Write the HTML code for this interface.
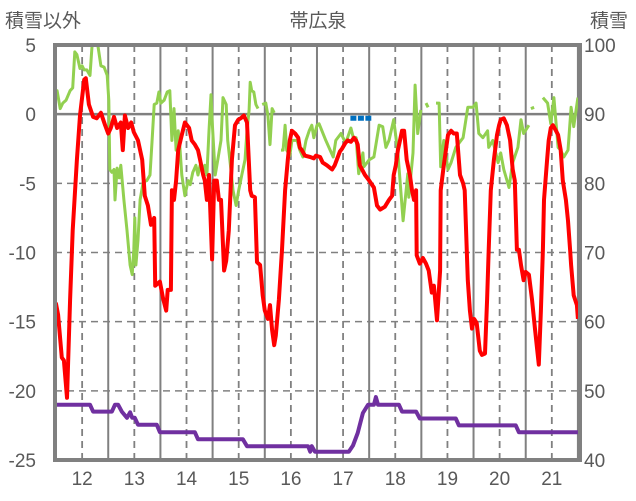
<!DOCTYPE html>
<html><head><meta charset="utf-8">
<style>
html,body{margin:0;padding:0;background:#fff;}
svg{display:block;font-family:"Liberation Sans","Noto Sans CJK JP",sans-serif;}
</style></head>
<body>
<svg id="chart" width="636" height="501" viewBox="0 0 636 501" xmlns="http://www.w3.org/2000/svg">
<rect x="0" y="0" width="636" height="501" fill="#fff"/>
<text x="318" y="27" text-anchor="middle" font-size="19" fill="#595959">帯広泉</text>
<text x="5" y="27" font-size="19" fill="#595959">積雪以外</text>
<text x="590" y="27" font-size="19" fill="#595959">積雪</text>
<g id="grid"></g>
<g id="series"></g>
<g id="axes"></g>
</svg>
<script>
// ---- data ----
const xTicks = [12,13,14,15,16,17,18,19,20,21];
const leftTicks = [5,0,-5,-10,-15,-20,-25];
const rightTicks = [100,90,80,70,60,50,40];

const redT = [11.48,11.50,11.54,11.61,11.65,11.71,11.77,11.82,11.90,11.96,12.04,12.07,12.13,12.21,12.28,12.36,12.44,12.50,12.55,12.61,12.67,12.74,12.78,12.82,12.88,12.94,12.99,13.07,13.15,13.20,13.26,13.32,13.38,13.40,13.49,13.55,13.61,13.64,13.70,13.72,13.76,13.80,13.84,13.91,13.97,14.05,14.10,14.16,14.22,14.26,14.32,14.35,14.39,14.43,14.49,14.53,14.58,14.62,14.66,14.72,14.76,14.81,14.87,14.93,14.99,15.04,15.10,15.16,15.22,15.25,15.31,15.35,15.41,15.46,15.50,15.56,15.60,15.64,15.68,15.71,15.77,15.83,15.89,15.94,15.98,16.02,16.08,16.14,16.17,16.21,16.27,16.37,16.44,16.48,16.56,16.61,16.69,16.79,16.84,16.94,16.98,17.04,17.09,17.15,17.21,17.25,17.28,17.32,17.42,17.50,17.59,17.65,17.71,17.80,17.88,17.94,17.97,18.01,18.05,18.09,18.13,18.17,18.22,18.28,18.32,18.36,18.40,18.41,18.47,18.53,18.59,18.64,18.70,18.74,18.80,18.86,18.87,18.93,18.97,19.01,19.07,19.12,19.18,19.24,19.30,19.33,19.39,19.43,19.47,19.51,19.56,19.62,19.66,19.72,19.76,19.79,19.83,19.89,19.95,19.99,20.02,20.08,20.14,20.20,20.25,20.29,20.33,20.37,20.41,20.46,20.50,20.56,20.62,20.68,20.71,20.75,20.79,20.83,20.85,20.91,20.94,20.98,21.02,21.08,21.12,21.17,21.21,21.27,21.31,21.35,21.37,21.42,21.48,21.50];
const redV = [-14.5,-13.7,-14.5,-17.6,-17.8,-20.5,-13.4,-8.4,-3.3,-0.1,2.5,2.6,0.7,-0.2,-0.3,0.1,-0.8,-1.4,-1.0,-0.2,-1.0,-0.6,-2.6,-0.1,-1.0,-0.6,-1.3,-1.9,-3.3,-5.9,-6.6,-8.0,-7.5,-12.4,-12.1,-13.3,-14.2,-12.7,-12.7,-5.5,-6.2,-4.8,-2.6,-1.5,-0.6,-1.0,-1.9,-2.2,-2.6,-3.3,-4.4,-4.8,-6.2,-4.4,-10.5,-4.8,-4.8,-6.2,-6.2,-11.3,-10.6,-8.4,-3.3,-0.8,-0.4,-0.3,-0.1,-0.6,-5.5,-5.9,-6.0,-10.7,-10.9,-13.1,-14.2,-14.8,-13.8,-15.6,-16.7,-16.0,-13.4,-9.8,-5.5,-3.3,-1.9,-1.2,-1.4,-1.7,-2.4,-2.6,-3.0,-3.1,-3.2,-3.0,-3.1,-3.5,-3.7,-4.0,-3.7,-2.7,-2.5,-2.1,-1.9,-2.0,-1.7,-1.9,-2.2,-3.7,-4.4,-4.8,-5.3,-6.6,-6.9,-6.7,-6.2,-5.9,-4.4,-3.7,-2.6,-1.9,-1.2,-1.2,-3.3,-4.4,-5.5,-6.2,-5.5,-10.2,-10.8,-10.4,-10.8,-11.3,-12.9,-12.4,-14.9,-11.3,-5.5,-3.7,-2.6,-1.5,-1.2,-1.4,-1.4,-4.4,-5.0,-5.5,-12.0,-14.2,-15.5,-14.8,-15.1,-17.1,-17.4,-17.3,-13.4,-9.8,-5.5,-3.3,-1.5,-0.8,-0.4,-0.3,-0.8,-1.9,-4.0,-4.8,-9.8,-9.8,-10.9,-12.0,-11.4,-11.6,-13.4,-15.6,-16.7,-18.1,-14.2,-9.8,-6.2,-3.3,-1.9,-1.0,-0.8,-1.2,-1.5,-2.6,-4.8,-6.2,-7.7,-9.8,-10.9,-13.1,-13.8,-14.8];

const greenT = [11.48,11.52,11.58,11.63,11.69,11.77,11.82,11.86,11.90,11.96,12.00,12.04,12.09,12.15,12.19,12.25,12.30,12.36,12.42,12.48,12.51,12.53,12.57,12.61,12.63,12.67,12.71,12.74,12.80,12.86,12.92,12.96,12.99,13.01,13.03,13.07,13.11,13.17,13.24,13.30,13.34,13.38,13.43,13.47,13.51,13.57,13.63,13.68,13.72,13.76,13.80,13.84,13.87,13.91,13.97,14.03,14.07,14.12,14.18,14.22,14.26,14.32,14.35,14.39,14.43,14.47,14.49,14.55,14.60,14.66,14.70,14.76,14.79,14.85,14.89,14.95,15.00,15.06,15.12,15.16,15.20,15.22,15.25,15.29,15.33,15.37,15.41,15.45,15.52,15.56,15.60,15.64,15.68,15.75,15.81,15.85,15.89,15.92,15.98,16.02,16.12,16.17,16.23,16.29,16.35,16.40,16.44,16.50,16.54,16.67,16.81,16.86,16.96,17.05,17.15,17.21,17.25,17.30,17.38,17.40,17.50,17.59,17.69,17.76,17.82,17.88,17.97,18.05,18.15,18.24,18.26,18.34,18.38,18.43,18.49,18.54,18.59,18.63,18.70,18.78,18.84,18.87,18.93,19.01,19.07,19.16,19.30,19.39,19.49,19.55,19.60,19.68,19.77,19.79,19.87,19.97,20.02,20.08,20.18,20.25,20.35,20.41,20.46,20.56,20.58,20.60,20.66,20.75,20.83,20.92,20.98,21.04,21.12,21.17,21.23,21.31,21.37,21.42,21.50];
const greenV = [1.2,1.7,0.4,0.8,1.0,1.7,1.9,4.5,4.3,3.3,3.5,3.2,3.2,2.8,5.0,5.0,5.0,3.5,3.4,2.8,1.0,-4.0,-4.2,-4.0,-6.2,-3.9,-4.6,-3.7,-6.2,-8.4,-10.9,-11.6,-9.8,-7.5,-10.9,-9.1,-6.2,-4.9,-4.8,-4.4,-1.9,0.7,0.8,1.6,0.8,1.0,1.6,1.7,-1.9,0.4,-2.6,-1.2,-2.2,-4.4,-5.9,-4.8,-5.1,-4.2,-3.7,-4.4,-3.7,-4.0,-3.7,-4.4,-1.2,1.4,-0.4,-4.4,-3.3,-1.9,1.2,0.7,-1.9,-4.0,-5.5,-6.6,-5.5,-4.4,-3.3,-1.2,0.3,2.3,1.7,1.6,0.7,0.4,null,0.7,0.8,-0.1,-2.2,0.4,0.1,null,-2.6,-2.6,-0.8,-2.6,-3.0,-1.9,-1.9,-2.6,-3.1,-1.9,-1.2,-0.8,-1.7,-0.8,-0.7,-1.9,-3.1,-1.9,-1.4,-2.1,-1.0,-1.9,-1.7,-4.3,-2.8,-3.8,-3.3,-3.1,-0.8,-0.9,-2.4,-1.9,-0.4,-2.8,-7.7,-4.3,-6.0,-2.8,2.1,-1.4,0.3,null,0.8,0.5,null,0.8,0.8,-3.8,-1.9,-4.0,-3.5,-2.4,-1.7,0.5,0.5,0.8,-1.4,-1.7,-1.2,-2.4,-1.9,-3.5,-2.8,-4.0,-5.3,-3.5,-2.4,-0.4,-1.4,-0.8,null,0.4,0.5,null,1.2,0.8,-0.7,1.2,-2.4,-2.6,-3.1,-2.6,0.5,-0.9,1.2];

const purpleT = [11.48,12.15,12.21,12.57,12.63,12.69,12.76,12.86,12.92,12.96,13.01,13.07,13.43,13.49,14.16,14.22,15.08,15.16,16.33,16.37,16.40,16.46,17.11,17.19,17.28,17.38,17.48,17.59,17.63,17.67,18.07,18.13,18.40,18.47,19.16,19.22,20.31,20.37,21.50];
const purpleV = [48.0,48.0,47.0,47.0,48.0,48.0,47.0,46.1,46.9,46.1,46.1,45.1,45.1,44.0,44.0,43.0,43.0,42.0,42.0,41.2,42.0,41.2,41.2,42.1,43.9,46.8,48.0,48.0,49.1,48.0,48.0,47.0,47.0,46.0,46.0,45.0,45.0,44.0,44.0];

const blueT = [17.14,17.54];
const blueV = [-0.3,-0.3];

// ---- scales ----
const PL=55, PR=580, PT=45, PB=460;
const T0=11.48, T1=21.54;
function sx(t){return PL+(t-T0)/(T1-T0)*(PR-PL);}
function syL(v){return PT+(5-v)/30*(PB-PT);}
function syR(v){return PT+(100-v)/60*(PB-PT);}
const NS="http://www.w3.org/2000/svg";
function mk(tag,attrs,parent){const e=document.createElementNS(NS,tag);for(const k in attrs)e.setAttribute(k,attrs[k]);parent.appendChild(e);return e;}
const grid=document.getElementById('grid'), ser=document.getElementById('series'), axes=document.getElementById('axes');

// horizontal gridlines
leftTicks.forEach(v=>{
  if(v===5||v===-25) return;
  const y=syL(v);
  const l=mk('line',{x1:PL,x2:PR,y1:y,y2:y,stroke:'#808080','stroke-width':v===0?2.5:1.5,'stroke-dasharray':v===0?'none':'7,5'},grid);
  
  
});
// vertical gridlines: dashed at day ticks, solid at midpoints
xTicks.forEach(d=>{
  const x=sx(d);
  const l=mk('line',{x1:x,x2:x,y1:PT,y2:PB,stroke:'#808080','stroke-width':1.8,'stroke-dasharray':'7,5'},grid);
  
  
  const xm=sx(d+0.5);
  if(xm<PR-2){
    const m=mk('line',{x1:xm,x2:xm,y1:PT,y2:PB,stroke:'#808080','stroke-width':2},grid);
    
    
  }
  const t=mk('text',{x:x,y:485,'text-anchor':'middle','font-size':19,fill:'#595959'},axes);
  t.textContent=String(d);
  
  
});

function pathFrom(T,V,sy){
  let d='',pen=false;
  for(let i=0;i<T.length;i++){
    if(V[i]===null){pen=false;continue;}
    d+=(pen?'L':'M')+sx(T[i]).toFixed(1)+' '+sy(V[i]).toFixed(1)+' ';
    pen=true;
  }
  return d;
}
const gp=mk('path',{d:pathFrom(greenT,greenV,syL),fill:'none',stroke:'#92d050','stroke-width':3,'stroke-linejoin':'round'},ser);


const rp=mk('path',{d:pathFrom(redT,redV,syL),fill:'none',stroke:'#ff0000','stroke-width':4,'stroke-linejoin':'round'},ser);


const pp=mk('path',{d:pathFrom(purpleT,purpleV,syR),fill:'none',stroke:'#7030a0','stroke-width':4,'stroke-linejoin':'round'},ser);


const bp=mk('path',{d:pathFrom(blueT,blueV,syL),fill:'none',stroke:'#0070c0','stroke-width':5,'stroke-dasharray':'6,1.5'},ser);



// frame
const fr=mk('rect',{x:PL,y:PT,width:PR-PL,height:PB-PT,fill:'none',stroke:'#808080','stroke-width':4},axes);



leftTicks.forEach(v=>{
  const t=mk('text',{x:36,y:syL(v)+7,'text-anchor':'end','font-size':19,fill:'#595959'},axes);
  t.textContent=String(v);
  
  
});
rightTicks.forEach(v=>{
  const t=mk('text',{x:584,y:syR(v)+7,'text-anchor':'start','font-size':19,fill:'#595959'},axes);
  t.textContent=String(v);
  
  
});
</script>
</body></html>
